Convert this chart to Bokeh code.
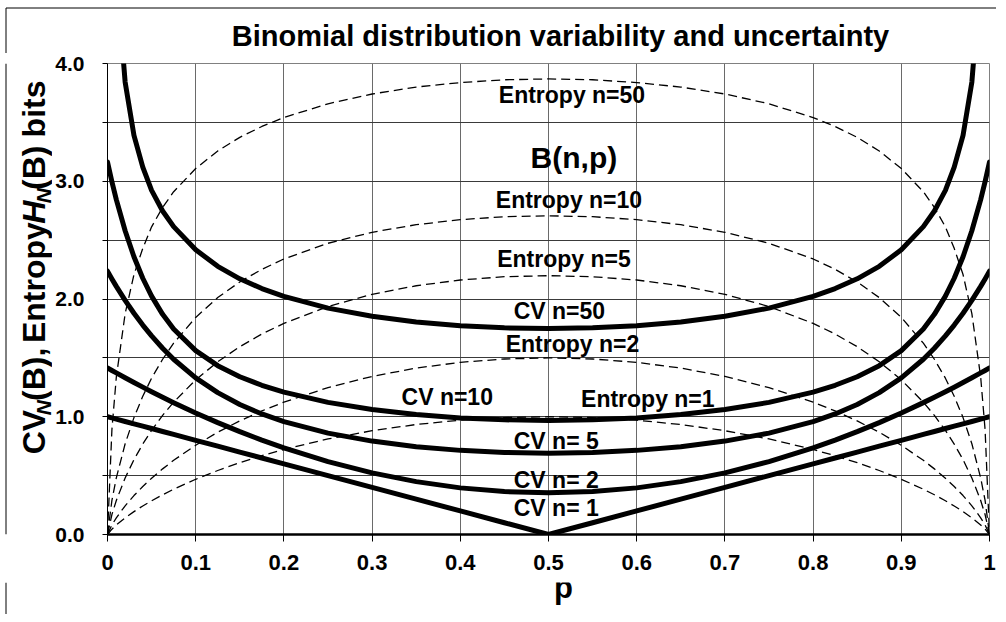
import math
from bokeh.plotting import figure
from bokeh.layouts import column, row
from bokeh.models import Range1d, FixedTicker, Label
from bokeh.embed import file_html
from bokeh.resources import INLINE

# ---------------- data ----------------
p_vals = [0, 0.005, 0.01, 0.02, 0.03, 0.04, 0.05, 0.0625, 0.075, 0.1, 0.125, 0.15, 0.175, 0.2, 0.25, 0.3, 0.35, 0.4, 0.45, 0.5,
          0.55, 0.6, 0.65, 0.7, 0.75, 0.8, 0.825, 0.85, 0.875, 0.9, 0.925, 0.9375, 0.95, 0.96, 0.97, 0.98, 0.99, 0.995, 1.0]

entropy_n1 = [0, 0.0454, 0.0808, 0.1414, 0.1944, 0.2423, 0.2864, 0.3373, 0.3843, 0.4690, 0.5436, 0.6098, 0.6690, 0.7219, 0.8113, 0.8813, 0.9341, 0.9710, 0.9928, 1.0,
              0.9928, 0.9710, 0.9341, 0.8813, 0.8113, 0.7219, 0.6690, 0.6098, 0.5436, 0.4690, 0.3843, 0.3373, 0.2864, 0.2423, 0.1944, 0.1414, 0.0808, 0.0454, 0]
entropy_n2 = [0, 0.0809, 0.1418, 0.2436, 0.3306, 0.4078, 0.4778, 0.5574, 0.6299, 0.7580, 0.8684, 0.9646, 1.0493, 1.1238, 1.2476, 1.3426, 1.4132, 1.4620, 1.4906, 1.5000,
              1.4906, 1.4620, 1.4132, 1.3426, 1.2476, 1.1238, 1.0493, 0.9646, 0.8684, 0.7580, 0.6299, 0.5574, 0.4778, 0.4078, 0.3306, 0.2436, 0.1418, 0.0809, 0]
entropy_n5 = [0, 0.1693, 0.2892, 0.4801, 0.6355, 0.7681, 0.8842, 1.0117, 1.1238, 1.3132, 1.4673, 1.5950, 1.7025, 1.7932, 1.9363, 2.0395, 2.1126, 2.1614, 2.1892, 2.1980,
              2.1892, 2.1614, 2.1126, 2.0395, 1.9363, 1.7932, 1.7025, 1.5950, 1.4673, 1.3132, 1.1238, 1.0117, 0.8842, 0.7681, 0.6355, 0.4801, 0.2892, 0.1693, 0]
entropy_n10 = [0, 0.2893, 0.4809, 0.7704, 0.9928, 1.1742, 1.3275, 1.4883, 1.6247, 1.8437, 2.0122, 2.1448, 2.2521, 2.3400, 2.4734, 2.5667, 2.6310, 2.6740, 2.6990, 2.7064,
               2.6990, 2.6740, 2.6310, 2.5667, 2.4734, 2.3400, 2.2521, 2.1448, 2.0122, 1.8437, 1.6247, 1.4883, 1.3275, 1.1742, 0.9928, 0.7704, 0.4809, 0.2893, 0]
entropy_n50 = [0, 0.8903, 1.3362, 1.8755, 2.2074, 2.4300, 2.6128, 2.7778, 2.9110, 3.1080, 3.2570, 3.3730, 3.4653, 3.5410, 3.6580, 3.7410, 3.8000, 3.8380, 3.8618, 3.8690,
               3.8618, 3.8380, 3.8000, 3.7410, 3.6580, 3.5410, 3.4653, 3.3730, 3.2570, 3.1080, 2.9110, 2.7778, 2.6128, 2.4300, 2.2074, 1.8755, 1.3362, 0.8903, 0]

cv_n1 = [1.0, 0.99, 0.98, 0.96, 0.94, 0.92, 0.90, 0.875, 0.85, 0.80, 0.75, 0.70, 0.65, 0.60, 0.50, 0.40, 0.30, 0.20, 0.10, 0.0,
         0.10, 0.20, 0.30, 0.40, 0.50, 0.60, 0.65, 0.70, 0.75, 0.80, 0.85, 0.875, 0.90, 0.92, 0.94, 0.96, 0.98, 0.99, 1.0]
cv_n2 = [1.4142, 1.3931, 1.3722, 1.3311, 1.2908, 1.2513, 1.2127, 1.1656, 1.1199, 1.0324, 0.9502, 0.8733, 0.8017, 0.7354, 0.6187, 0.5233, 0.4490, 0.3960, 0.3642, 0.3536,
         0.3642, 0.3960, 0.4490, 0.5233, 0.6187, 0.7354, 0.8017, 0.8733, 0.9502, 1.0324, 1.1199, 1.1656, 1.2127, 1.2513, 1.2908, 1.3311, 1.3722, 1.3931, 1.4142]
cv_n5 = [2.2361, 2.1703, 2.1072, 1.9884, 1.8790, 1.7786, 1.6864, 1.5820, 1.4885, 1.3304, 1.2045, 1.1041, 1.0236, 0.9584, 0.8610, 0.7933, 0.7461, 0.7145, 0.6963, 0.6903,
         0.6963, 0.7145, 0.7461, 0.7933, 0.8610, 0.9584, 1.0236, 1.1041, 1.2045, 1.3304, 1.4885, 1.5820, 1.6864, 1.7786, 1.8790, 1.9884, 2.1072, 2.1703, 2.2361]
cv_n10 = [3.1623, 2.9960, 2.8441, 2.5792, 2.3590, 2.1763, 2.0244, 1.8696, 1.7453, 1.5617, 1.4340, 1.3399, 1.2672, 1.2091, 1.1219, 1.0609, 1.0184, 0.9901, 0.9739, 0.9686,
          0.9739, 0.9901, 1.0184, 1.0609, 1.1219, 1.2091, 1.2672, 1.3399, 1.4340, 1.5617, 1.7453, 1.8696, 2.0244, 2.1763, 2.3590, 2.5792, 2.8441, 2.9960, 3.1623]
cv_n50 = [7.0711, 5.6457, 4.7675, 3.8426, 3.3892, 3.1200, 2.9220, 2.7475, 2.6146, 2.4180, 2.2772, 2.1714, 2.0889, 2.0224, 1.9225, 1.8530, 1.8049, 1.7731, 1.7549, 1.7490,
          1.7549, 1.7731, 1.8049, 1.8530, 1.9225, 2.0224, 2.0889, 2.1714, 2.2772, 2.4180, 2.6146, 2.7475, 2.9220, 3.1200, 3.3892, 3.8426, 4.7675, 5.6457, 7.0711]

x_ticks = [0, 0.1, 0.2, 0.3, 0.4, 0.5, 0.6, 0.7, 0.8, 0.9, 1.0]
x_tick_labels = ["0", "0.1", "0.2", "0.3", "0.4", "0.5", "0.6", "0.7", "0.8", "0.9", "1"]
y_ticks = [0, 0.5, 1.0, 1.5, 2.0, 2.5, 3.0, 3.5, 4.0]
y_tick_labels = ["0.0", "", "1.0", "", "2.0", "", "3.0", "", "4.0"]

title_text = "Binomial distribution variability and uncertainty"
x_title = "p"
curve_labels = ["Entropy n=50", "Entropy n=10", "Entropy n=5", "CV n=50", "Entropy n=2",
                "CV n=10", "Entropy n=1", "CV n=  5", "CV n=  2", "CV n=  1"]
label_x = [0.5266, 0.5232, 0.5175, 0.5124, 0.5271, 0.3852, 0.6126, 0.5124, 0.5124, 0.5124]
label_y = [3.669, 2.769, 2.276, 1.834, 1.546, 1.096, 1.079, 0.730, 0.391, 0.161]   # baselines
dist_label = "B(n,p)"

FONT = "Liberation Sans"
MID = 0.3465            # em distance from baseline to the middle of the text box

# ---------------- layout (page pixels) ----------------
TOTAL_W = 996
TOP_H = 53          # strip holding the title
MID_H = 529         # main chart row
BOT_H = 32          # strip holding the x title
LEFT_W = 52         # strip holding the y title
PX_PER_Y = 471.0 / 4.0


def strip(w, h, y0, y1, x0=0):
    f = figure(width=w, height=h, x_range=Range1d(x0, x0 + w), y_range=Range1d(y1, y0),
               output_backend="svg", toolbar_location=None, title=None,
               x_axis_location=None, y_axis_location=None,
               min_border=0, min_border_left=0, min_border_right=0, min_border_top=0, min_border_bottom=0)
    f.outline_line_color = None
    f.background_fill_color = "white"
    f.border_fill_color = "white"
    f.xgrid.visible = False
    f.ygrid.visible = False
    return f

# ---- top strip: title + outer border
top = strip(TOTAL_W, TOP_H, 0, TOP_H)
top.line([5.5, TOTAL_W], [7.5, 7.5], line_color="black", line_width=1)
top.line([5.5, 5.5], [7.5, TOP_H], line_color="black", line_width=1)
TFS = 29
top.add_layout(Label(x=560, y=46 - MID * TFS, text=title_text, text_align="center", text_baseline="middle",
                     text_font=FONT, text_font_style="bold", text_font_size=f"{TFS}px", text_color="black"))

# ---- left strip: y title (built from pieces, rotated; each piece placed where it sits in the chart)
left = strip(LEFT_W, MID_H, TOP_H, TOP_H + MID_H)
left.line([5.5, 5.5], [TOP_H, TOP_H + MID_H], line_color="black", line_width=1)
FS = 32.0
SUB = 21.0
base_x = 45.0
sub_x = 50.0
pieces = [  # text, size, style, baseline x, start y (page px, text runs upward)
    ("CV", FS, "bold", base_x, 492),
    ("N", SUB, "bold italic", sub_x, 448),
    ("(B),", FS, "bold", base_x, 432),
    ("Entropy", FS, "bold", base_x, 367),
    ("H", FS, "bold italic", base_x, 233),
    ("N", SUB, "bold italic", sub_x, 210),
    ("(B)", FS, "bold", base_x, 195),
    ("bits", FS, "bold", base_x, 136),
]
for txt, fs, style, bx, y0 in pieces:
    left.add_layout(Label(x=bx - MID * fs, y=y0, text=txt, angle=math.pi / 2,
                          text_align="left", text_baseline="middle",
                          text_font=FONT, text_font_style=style, text_font_size=f"{fs}px",
                          text_color="black"))

# ---- main chart
p = figure(width=TOTAL_W - LEFT_W, height=MID_H, x_range=Range1d(0, 1), y_range=Range1d(0, 4),
           output_backend="svg", toolbar_location=None, title=None,
           min_border_left=53, min_border_right=7, min_border_top=10, min_border_bottom=48)
p.background_fill_color = "white"
p.border_fill_color = "white"
p.outline_line_color = "#808080"
p.outline_line_width = 1

p.xaxis.ticker = FixedTicker(ticks=x_ticks)
p.xaxis.major_label_overrides = dict(zip(x_ticks, x_tick_labels))
p.yaxis.ticker = FixedTicker(ticks=y_ticks)
p.yaxis.major_label_overrides = dict(zip(y_ticks, y_tick_labels))
for ax in (p.xaxis, p.yaxis):
    ax.major_label_text_font = FONT
    ax.major_label_text_font_style = "bold"
    ax.major_label_text_color = "black"
    ax.minor_tick_line_color = None
    ax.major_tick_in = 0
    ax.major_tick_line_color = "black"
    ax.axis_line_color = "black"
p.xaxis.major_label_text_font_size = "22px"
p.yaxis.major_label_text_font_size = "21px"
p.xaxis.major_tick_out = 7
p.xaxis.major_label_standoff = 13
p.xaxis.axis_line_width = 2.5
p.yaxis.major_tick_out = 5
p.yaxis.major_label_standoff = 18
p.yaxis.axis_line_width = 1

p.xgrid.ticker = FixedTicker(ticks=x_ticks)
p.ygrid.ticker = FixedTicker(ticks=y_ticks)
p.xgrid.grid_line_color = "#6a6a6a"
p.ygrid.grid_line_color = "#3a3a3a"

for ys in (entropy_n1, entropy_n2, entropy_n5, entropy_n10, entropy_n50):
    p.line(p_vals, ys, line_color="black", line_width=1.3, line_dash="9 5")

for ys in (cv_n1, cv_n2, cv_n5, cv_n10, cv_n50):
    p.line(p_vals, ys, line_color="black", line_width=5, line_join="round", line_cap="round")

LFS = 23
for t, lx, ly in zip(curve_labels, label_x, label_y):
    p.add_layout(Label(x=lx, y=ly + MID * LFS / PX_PER_Y, text=t, text_align="center", text_baseline="middle",
                       text_font=FONT, text_font_style="bold", text_font_size=f"{LFS}px", text_color="black"))
BFS = 30
p.add_layout(Label(x=0.5288, y=3.117 + MID * BFS / PX_PER_Y, text=dist_label, text_align="center", text_baseline="middle",
                   text_font=FONT, text_font_style="bold", text_font_size=f"{BFS}px", text_color="black"))

# ---- bottom strip: x title + outer border
bot = strip(TOTAL_W, BOT_H, TOP_H + MID_H, TOP_H + MID_H + BOT_H)
bot.line([5.5, 5.5], [TOP_H + MID_H, TOP_H + MID_H + BOT_H], line_color="black", line_width=1)
PFS = 31
bot.add_layout(Label(x=563, y=598 - MID * PFS, text=x_title, text_align="center", text_baseline="middle",
                     text_font=FONT, text_font_style="bold", text_font_size=f"{PFS}px", text_color="black"))

layout = column(top, row(left, p), bot)
open("out.html", "w").write(file_html(layout, INLINE))
